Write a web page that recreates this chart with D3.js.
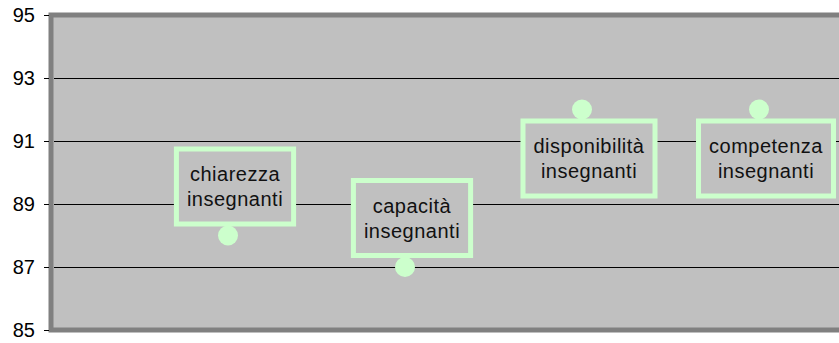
<!DOCTYPE html>
<html>
<head>
<meta charset="utf-8">
<script src="https://cdn.jsdelivr.net/npm/d3@7"></script>
<style>
  body { margin: 0; background: #fff; }
  text { font-family: "Liberation Sans", Arial, sans-serif; }
</style>
</head>
<body>
<div id="chart"></div>
<script>
// Data
const categories = [
    ["chiarezza", "insegnanti"],
    ["capacità", "insegnanti"],
    ["disponibilità", "insegnanti"],
    ["competenza", "insegnanti"]
];
const values = [88, 87, 92, 92];
const yTicks = [85, 87, 89, 91, 93, 95];

// Sizing
const W = 839, H = 343;
const plotLeft = 51, plotTop = 15, plotBottom = 330;
const step = 177;

const svg = d3.select("#chart").append("svg")
    .attr("width", W)
    .attr("height", H);

const x = d3.scaleLinear()
    .domain([0, 5])
    .range([plotLeft, plotLeft + step * 5]);

const y = d3.scaleLinear()
    .domain([85, 95])
    .range([plotBottom, plotTop]);

// Plot area
svg.append("rect")
    .attr("x", plotLeft)
    .attr("y", plotTop)
    .attr("width", x(5) - plotLeft)
    .attr("height", plotBottom - plotTop)
    .attr("fill", "#c0c0c0")
    .attr("stroke", "#808080")
    .attr("stroke-width", 5);

// Gridlines
svg.append("g")
    .selectAll("line")
    .data(yTicks.filter(d => d > 85 && d < 95))
    .enter()
    .append("line")
    .attr("x1", plotLeft + 3)
    .attr("x2", W)
    .attr("y1", d => Math.round(y(d)) + 0.5)
    .attr("y2", d => Math.round(y(d)) + 0.5)
    .attr("stroke", "#000")
    .attr("stroke-width", 1);

// Y axis
const yAxis = svg.append("g")
    .attr("transform", `translate(${plotLeft - 2},0)`)
    .call(d3.axisLeft(y).tickValues(yTicks).tickSize(5).tickPadding(9));
yAxis.select(".domain").remove();
yAxis.selectAll(".tick line").attr("stroke", "#000");
yAxis.selectAll(".tick text")
    .attr("font-size", 20)
    .attr("fill", "#000")
    .attr("font-family", "Liberation Sans, Arial, sans-serif");

// Points
const mid = (y.domain()[0] + y.domain()[1]) / 2;
svg.append("g")
    .selectAll("circle")
    .data(values)
    .enter()
    .append("circle")
    .attr("cx", (d, i) => x(i + 1))
    .attr("cy", d => y(d))
    .attr("r", 10)
    .attr("fill", "#ccffcc");

// Labels
values.forEach((v, i) => {
    const px = x(i + 1), py = y(v);
    const g = svg.append("g");
    const lines = categories[i];
    const texts = lines.map((t, k) => g.append("text")
        .attr("text-anchor", "middle")
        .attr("font-size", 20)
        .attr("letter-spacing", "0.5px")
        .attr("fill", "#111")
        .text(t));
    const tw = d3.max(texts, t => t.node().getComputedTextLength());
    const bw = tw + 26, bh = 80;
    const cx = px + 7;
    const top = v < mid ? py - 9 - bh : py + 9;
    g.insert("rect", "text")
        .attr("x", cx - bw / 2 + 2.5)
        .attr("y", top + 2.5)
        .attr("width", bw - 5)
        .attr("height", bh - 5)
        .attr("fill", "#c0c0c0")
        .attr("stroke", "#ccffcc")
        .attr("stroke-width", 5);
    texts.forEach((t, k) => t
        .attr("x", cx)
        .attr("y", top + bh / 2 + (k - 0.5) * 25)
        .attr("dy", "0.35em"));
});
</script>
</body>
</html>
